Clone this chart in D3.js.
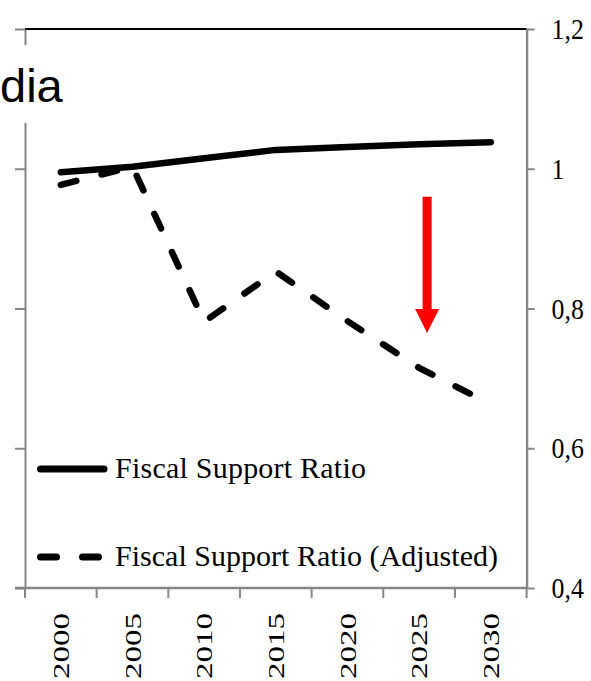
<!DOCTYPE html>
<html>
<head>
<meta charset="utf-8">
<script src="https://cdn.jsdelivr.net/npm/d3@7"></script>
<style>
  html, body { margin: 0; padding: 0; background: #fff; overflow: hidden; }
  svg { display: block; }
</style>
</head>
<body>
<svg id="chart" width="591" height="681"></svg>
<script>
// ---- data ----
const years = ["2000", "2005", "2010", "2015", "2020", "2025", "2030"];
const fiscalSupport = [0.995, 1.003, 1.015, 1.027, 1.031, 1.035, 1.038];
const fiscalSupportAdjusted = [0.977, 1.003, 0.781, 0.853, 0.782, 0.715, 0.663];
const yTicks = [0.4, 0.6, 0.8, 1.0, 1.2];
const seriesNames = ["Fiscal Support Ratio", "Fiscal Support Ratio (Adjusted)"];
const titleText = "dia";
const arrowFrom = 0.96, arrowTo = 0.765;

// ---- layout ----
const W = 591, H = 681;
const pL = 25, pR = 526.6, pT = 29, pB = 588;
const svg = d3.select("#chart");
svg.append("rect").attr("width", W).attr("height", H).attr("fill", "#fff");

const x = d3.scaleBand().domain(years).range([pL, pR]).padding(0);
const y = d3.scaleLinear().domain([0.4, 1.2]).range([pB, pT]);
const cx = d => x(d) + x.bandwidth() / 2;
const gray = "#868686";
const serif = "'Liberation Serif', 'DejaVu Serif', serif";

// top border
svg.append("line").attr("x1", pL).attr("x2", pR).attr("y1", pT).attr("y2", pT)
  .attr("stroke", "#000").attr("stroke-width", 2);

// left axis (no labels)
const gl = svg.append("g").attr("transform", `translate(${pL},0)`)
  .call(d3.axisLeft(y).tickValues(yTicks).tickSize(10).tickSizeOuter(0).tickFormat(""));
gl.select(".domain").attr("stroke", gray).attr("stroke-width", 2);
gl.selectAll(".tick line").attr("stroke", gray).attr("stroke-width", 2);

// right axis
const fmt = v => String(+v.toFixed(1)).replace(".", ",");
const gr = svg.append("g").attr("transform", `translate(${pR},0)`)
  .call(d3.axisRight(y).tickValues(yTicks).tickSize(8).tickSizeOuter(0).tickPadding(17).tickFormat(fmt));
gr.select(".domain").attr("stroke", gray).attr("stroke-width", 2.4);
gr.selectAll(".tick line").attr("stroke", gray).attr("stroke-width", 2);
gr.selectAll(".tick text").attr("fill", "#000").style("font-family", serif).style("font-size", "30px")
  .each(function () {
    const L = this.getComputedTextLength();
    d3.select(this).attr("textLength", L * 0.86).attr("lengthAdjust", "spacingAndGlyphs");
  });

// bottom axis: labels centered in bands, ticks at band edges
const gb = svg.append("g").attr("transform", `translate(0,${pB})`)
  .call(d3.axisBottom(x).tickSize(0).tickSizeOuter(0).tickPadding(0));
gb.select(".domain").remove();
gb.selectAll(".tick text")
  .attr("transform", "rotate(-90)")
  .attr("x", -25).attr("y", 0).attr("dy", "0.35em")
  .attr("text-anchor", "end")
  .attr("fill", "#000")
  .attr("textLength", 66).attr("lengthAdjust", "spacingAndGlyphs")
  .style("font-family", serif).style("font-size", "23px");
svg.append("line").attr("x1", pL - 10).attr("x2", pR).attr("y1", pB).attr("y2", pB)
  .attr("stroke", gray).attr("stroke-width", 2.4);
const edges = years.map(d => x(d)).concat([pR]);
svg.append("g").selectAll("line").data(edges).join("line")
  .attr("x1", d => d).attr("x2", d => d).attr("y1", pB).attr("y2", pB + 10)
  .attr("stroke", gray).attr("stroke-width", 2);

// title with white background box
svg.append("rect").attr("x", -60).attr("y", 45).attr("width", 130).attr("height", 78).attr("fill", "#fff");
svg.append("text").attr("x", 0).attr("y", 102)
  .style("font-family", "'Liberation Sans', Arial, sans-serif").style("font-size", "47px")
  .attr("fill", "#000").text(titleText);

// lines
const line = d3.line().x((d, i) => cx(years[i])).y(d => y(d));
svg.append("path").datum(fiscalSupport).attr("d", line)
  .attr("fill", "none").attr("stroke", "#000").attr("stroke-width", 6.5)
  .attr("stroke-linecap", "round").attr("stroke-linejoin", "round");
svg.append("path").datum(fiscalSupportAdjusted).attr("d", line)
  .attr("fill", "none").attr("stroke", "#000").attr("stroke-width", 6.5)
  .attr("stroke-dasharray", "16,26")
  .attr("stroke-linecap", "round").attr("stroke-linejoin", "round");

// red arrow
const ax = cx("2025") + 8;
const yTop = y(arrowFrom), yTip = y(arrowTo), headLen = 24, headHalf = 12, shaftHalf = 4.5;
svg.append("path")
  .attr("d", `M${ax - shaftHalf},${yTop} L${ax + shaftHalf},${yTop} L${ax + shaftHalf},${yTip - headLen} L${ax + headHalf},${yTip - headLen} L${ax},${yTip} L${ax - headHalf},${yTip - headLen} L${ax - shaftHalf},${yTip - headLen} Z`)
  .attr("fill", "#ff0000");

// legend
const legend = [
  { name: seriesNames[0], dash: null, y: 469, len: 251 },
  { name: seriesNames[1], dash: "16,26", y: 557, len: 383 }
];
const lg = svg.append("g");
legend.forEach(l => {
  const ln = lg.append("line").attr("x1", 40.5).attr("x2", 104).attr("y1", l.y).attr("y2", l.y)
    .attr("stroke", "#000").attr("stroke-width", 7).attr("stroke-linecap", "round");
  if (l.dash) ln.attr("stroke-dasharray", l.dash);
  lg.append("text").attr("x", 115).attr("y", l.y + 9)
    .attr("textLength", l.len).attr("lengthAdjust", "spacing")
    .style("font-family", serif).style("font-size", "30px").attr("fill", "#000").text(l.name);
});
</script>
</body>
</html>
